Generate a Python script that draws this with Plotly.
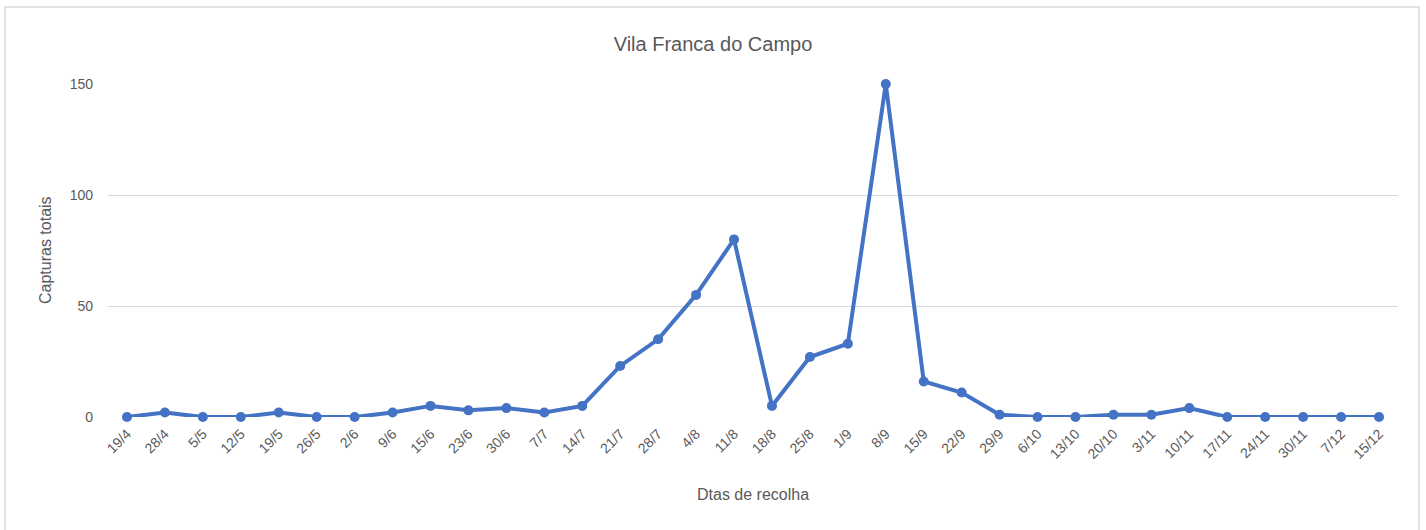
import plotly.graph_objects as go

categories = ["19/4", "28/4", "5/5", "12/5", "19/5", "26/5", "2/6", "9/6", "15/6", "23/6",
              "30/6", "7/7", "14/7", "21/7", "28/7", "4/8", "11/8", "18/8", "25/8", "1/9",
              "8/9", "15/9", "22/9", "29/9", "6/10", "13/10", "20/10", "3/11", "10/11", "17/11",
              "24/11", "30/11", "7/12", "15/12"]
capturas = [0, 2, 0, 0, 2, 0, 0, 2, 5, 3,
            4, 2, 5, 23, 35, 55, 80, 5, 27, 33,
            150, 16, 11, 1, 0, 0, 1, 1, 4, 0,
            0, 0, 0, 0]
y_ticks = [0, 50, 100, 150]

FONT = "Liberation Sans"
GRAY = "#595959"

fig = go.Figure()
fig.add_trace(go.Scatter(
    x=list(range(len(categories))), y=capturas, mode="lines+markers",
    line=dict(color="#4472C4", width=4),
    marker=dict(color="#4472C4", size=10),
    cliponaxis=False, hoverinfo="x+y",
))

L, R, T, B = 108, 28, 84, 113
W, H = 1426, 530
pw, ph = W - L - R, H - T - B

def px(x):
    return (x - L) / pw

def py(y):
    return (H - B - y) / ph

fig.update_layout(
    width=W, height=H,
    margin=dict(l=L, r=R, t=T, b=B),
    paper_bgcolor="white", plot_bgcolor="white",
    showlegend=False,
    font=dict(family=FONT, color=GRAY, size=14),
    title=dict(text="Vila Franca do Campo", x=0.5, xanchor="center",
               y=1 - 44 / H, yanchor="middle",
               font=dict(family=FONT, size=20, color=GRAY)),
    xaxis=dict(
        range=[-0.5, len(categories) - 0.5],
        tickmode="array", tickvals=list(range(len(categories))), ticktext=categories,
        tickangle=-45, showgrid=False, zeroline=False, showline=False,
        tickfont=dict(family=FONT, size=14, color=GRAY), ticklabelstandoff=5,
    ),
    yaxis=dict(
        range=[0, 150], tickmode="array", tickvals=y_ticks,
        showgrid=True, gridcolor="#d9d9d9", gridwidth=1.3,
        zeroline=False, showline=False,
        tickfont=dict(family=FONT, size=14, color=GRAY), ticklabelstandoff=14,
    ),
    annotations=[
        dict(text="Capturas totais", xref="paper", yref="paper",
             x=px(45), y=py(250), textangle=-90, showarrow=False,
             xanchor="center", yanchor="middle",
             font=dict(family=FONT, size=16, color=GRAY)),
        dict(text="Dtas de recolha", xref="paper", yref="paper",
             x=0.5, y=py(494), showarrow=False,
             xanchor="center", yanchor="middle",
             font=dict(family=FONT, size=16, color=GRAY)),
    ],
    shapes=[
        dict(type="rect", xref="paper", yref="paper",
             x0=px(5), x1=px(1419), y0=py(540), y1=py(7),
             line=dict(color="#d9d9d9", width=1.5), fillcolor="rgba(0,0,0,0)",
             layer="below"),
    ],
)

fig.write_html("out.html", config={"displayModeBar": False},
               post_script="document.body.style.margin='0';document.body.style.overflow='hidden';")
